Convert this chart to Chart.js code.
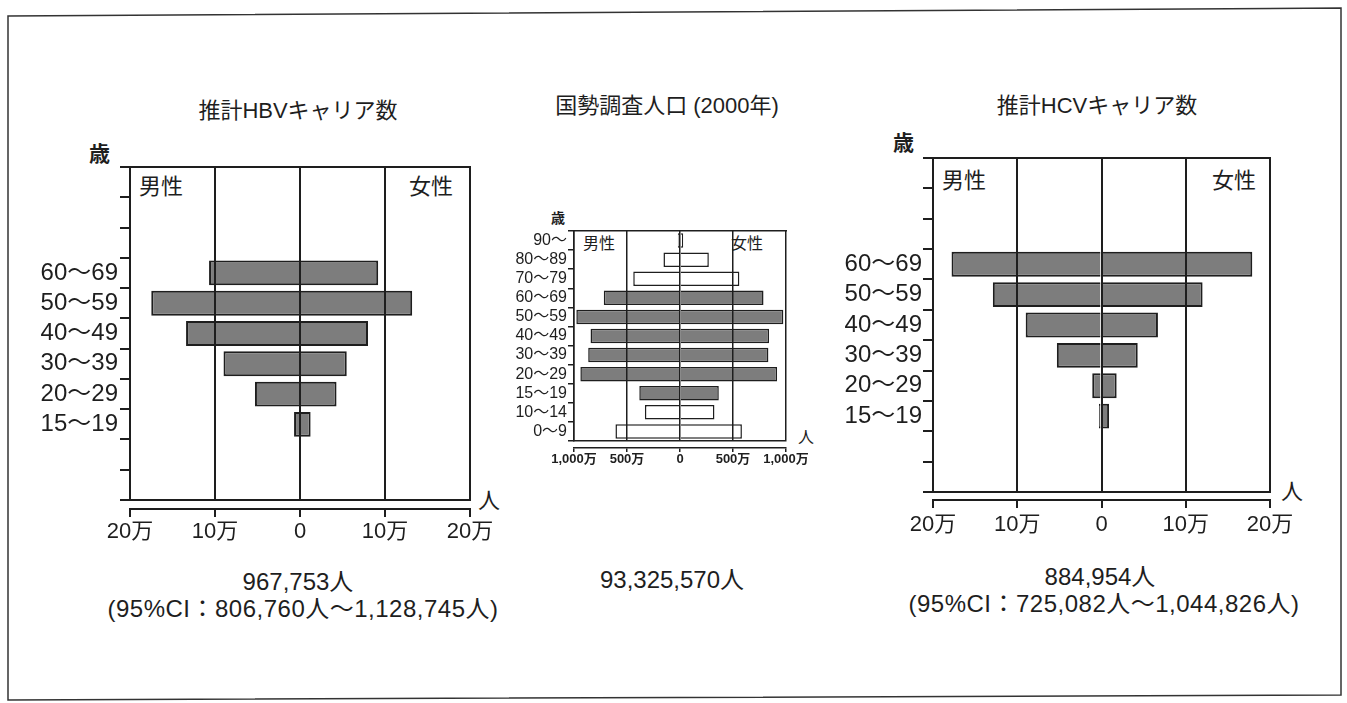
<!DOCTYPE html>
<html lang="ja">
<head>
<meta charset="utf-8">
<title>推計HBV・HCVキャリア数と国勢調査人口</title>
<script src="https://cdn.jsdelivr.net/npm/chart.js@4.4.1/dist/chart.umd.min.js"></script>
<style>
  html, body { margin: 0; padding: 0; background: #fff; }
  body {
    width: 1347px; height: 703px; position: relative; overflow: hidden;
    font-family: "Liberation Sans", "Noto Sans CJK JP", sans-serif; color: #1e1e1e;
  }
  .t { position: absolute; white-space: nowrap; line-height: 1; }
  .c { transform: translateX(-50%); }
  canvas { position: absolute; }
  svg { position: absolute; left: 0; top: 0; }
</style>
</head>
<body>
<svg width="1347" height="703">
  <polygon points="8,16 1341,8 1341,695 8,700" fill="none" stroke="#333" stroke-width="1.5"/>
</svg>

<div class="t c" style="left:298px;top:100px;font-size:22px">推計HBVキャリア数</div>
<div class="t c" style="left:667px;top:95px;font-size:22px">国勢調査人口 (2000年)</div>
<div class="t c" style="left:1097px;top:95px;font-size:22px">推計HCVキャリア数</div>

<!-- HBV -->
<div class="t" style="left:89px;top:143px;font-size:21px;font-weight:bold">歳</div>
<div class="t" style="left:139px;top:176px;font-size:22px">男性</div>
<div class="t" style="left:409px;top:176px;font-size:22px">女性</div>
<div class="t" style="left:478px;top:490px;font-size:22px">人</div>
<div class="t c" style="left:298px;top:570px;font-size:24px">967,753人</div>
<div class="t c" style="left:303px;top:597px;font-size:24px;letter-spacing:0.5px">(95%CI：806,760人〜1,128,745人)</div>

<!-- 人口 -->
<div class="t" style="left:551px;top:211px;font-size:14px;font-weight:bold">歳</div>
<div class="t" style="left:583px;top:236px;font-size:16px">男性</div>
<div class="t" style="left:731px;top:236px;font-size:16px">女性</div>
<div class="t" style="left:798px;top:430px;font-size:16px">人</div>
<div class="t c" style="left:672px;top:568px;font-size:24px">93,325,570人</div>

<!-- HCV -->
<div class="t" style="left:893px;top:132px;font-size:21px;font-weight:bold">歳</div>
<div class="t" style="left:942px;top:170px;font-size:22px">男性</div>
<div class="t" style="left:1212px;top:170px;font-size:22px">女性</div>
<div class="t" style="left:1281px;top:481px;font-size:22px">人</div>
<div class="t c" style="left:1100px;top:565px;font-size:24px">884,954人</div>
<div class="t c" style="left:1104px;top:592px;font-size:24px;letter-spacing:0.5px">(95%CI：725,082人〜1,044,826人)</div>

<canvas id="hbvChart" width="490" height="410" style="left:20px;top:140px"></canvas>
<canvas id="popChart" width="340" height="280" style="left:510px;top:200px"></canvas>
<canvas id="hcvChart" width="490" height="420" style="left:820px;top:130px"></canvas>

<script>
// 年齢階級（上から）
const ageGroups = ['90〜', '80〜89', '70〜79', '60〜69', '50〜59', '40〜49', '30〜39', '20〜29', '15〜19', '10〜14', '0〜9'];
// 網掛けの年齢階級（人口ピラミッド）
const shadedAges = ['60〜69', '50〜59', '40〜49', '30〜39', '20〜29', '15〜19'];

// 推計HBVキャリア数（万人）
const hbvMale = [null, null, null, 10.7, 17.5, 13.4, 9.0, 5.3, 0.7, null, null];
const hbvFemale = [null, null, null, 9.2, 13.2, 8.0, 5.5, 4.3, 1.25, null, null];

// 国勢調査人口 2000年（万人）
const popMale = [20, 156, 441, 719, 978, 844, 866, 940, 384, 331, 609];
const popFemale = [30, 272, 560, 788, 975, 840, 834, 916, 366, 325, 584];

// 推計HCVキャリア数（万人）
const hcvMale = [null, null, null, 17.8, 12.9, 9.0, 5.3, 1.1, 0.3, null, null];
const hcvFemale = [null, null, null, 17.9, 12.0, 6.7, 4.3, 1.8, 0.9, null, null];

// x軸の目盛
const carrierTicks = [-20, -10, 0, 10, 20];
const popTicks = [-1000, -500, 0, 500, 1000];

const ink = '#1e1e1e';
const gray = '#7d7d7d';
const FONT = '"Liberation Sans", "Noto Sans CJK JP", sans-serif';

const fmtMan = v => v === 0 ? '0' : Math.abs(v).toLocaleString('en-US') + '万';

const drawPyramid = (id, cfg) => {
    const ctx = document.getElementById(id).getContext('2d');
    const min = cfg.ticks[0];
    const max = cfg.ticks[cfg.ticks.length - 1];
    const setTicks = s => { s.ticks = cfg.ticks.map(v => ({value: v})); };
    const line = {color: ink, width: cfg.lineWidth};
    const barStyle = {
        borderColor: ink,
        borderWidth: cfg.barBorder,
        borderSkipped: 'start',
        barPercentage: cfg.barPct,
        categoryPercentage: 1
    };
    new Chart(ctx, {
        type: 'bar',
        data: {
            labels: ageGroups,
            datasets: [
                {label: '男性', data: cfg.male.map(v => v === null ? null : -v), backgroundColor: cfg.fill, ...barStyle},
                {label: '女性', data: cfg.female, backgroundColor: cfg.fill, ...barStyle}
            ]
        },
        options: {
            indexAxis: 'y',
            responsive: false,
            animation: false,
            layout: {padding: cfg.padding},
            plugins: {
                legend: {display: false},
                tooltip: {enabled: false}
            },
            scales: {
                // 枠の中の縦線（棒の上に描く）と枠の下辺
                x: {
                    stacked: true, min, max,
                    afterBuildTicks: setTicks,
                    afterFit: s => { s.height = cfg.gap; },
                    grid: {color: ink, lineWidth: cfg.lineWidth, drawTicks: false, z: 1},
                    border: {...line, z: 1},
                    ticks: {display: false}
                },
                // 少し離れた目盛付きの軸
                xAxis: {
                    position: 'bottom', weight: 1, min, max,
                    afterBuildTicks: setTicks,
                    afterFit: s => { s.height = cfg.xHeight - cfg.gap; },
                    grid: {drawOnChartArea: false, color: ink, lineWidth: cfg.lineWidth, tickLength: cfg.tick},
                    border: line,
                    ticks: {
                        autoSkip: false, maxRotation: 0, padding: cfg.xPad,
                        color: ink, font: {family: FONT, size: cfg.xFont, weight: cfg.xWeight},
                        callback: v => fmtMan(v)
                    }
                },
                // 枠の上辺
                xTop: {
                    position: 'top', min, max,
                    afterFit: s => { s.height = 0; },
                    grid: {display: false},
                    border: line,
                    ticks: {display: false}
                },
                y: {
                    stacked: true,
                    offset: true,
                    afterFit: s => { s.width = cfg.yWidth; },
                    grid: {offset: true, drawOnChartArea: false, color: ink, lineWidth: cfg.lineWidth, tickLength: cfg.yTick},
                    border: line,
                    ticks: {
                        autoSkip: false, padding: cfg.yPad, color: ink,
                        font: {family: FONT, size: cfg.yFont},
                        callback: (v, i) => (cfg.male[i] === null && cfg.female[i] === null) ? '' : ageGroups[i]
                    }
                }
            }
        }
    });
};

drawPyramid('hbvChart', {
    male: hbvMale, female: hbvFemale, fill: gray, ticks: carrierTicks,
    padding: {top: 27, right: 40, bottom: 0, left: 0},
    yWidth: 110, xHeight: 50, barPct: 0.82, barBorder: 2, lineWidth: 2,
    gap: 9, tick: 8, xPad: 2, xFont: 22, xWeight: 'normal', yFont: 24, yPad: 2, yTick: 10
});

drawPyramid('popChart', {
    male: popMale, female: popFemale, ticks: popTicks,
    fill: c => shadedAges.includes(ageGroups[c.dataIndex]) ? gray : '#fff',
    padding: {top: 31, right: 64, bottom: 0, left: 0},
    yWidth: 64, xHeight: 39, barPct: 0.76, barBorder: 1.5, lineWidth: 1.5,
    gap: 7, tick: 4, xPad: 0, xFont: 13, xWeight: 'bold', yFont: 16, yPad: 1, yTick: 6
});

drawPyramid('hcvChart', {
    male: hcvMale, female: hcvFemale, fill: gray, ticks: carrierTicks,
    padding: {top: 28, right: 40, bottom: 0, left: 0},
    yWidth: 113, xHeight: 58, barPct: 0.82, barBorder: 2, lineWidth: 2,
    gap: 8, tick: 8, xPad: 4, xFont: 22, xWeight: 'normal', yFont: 24, yPad: 1, yTick: 10
});
</script>
</body>
</html>
